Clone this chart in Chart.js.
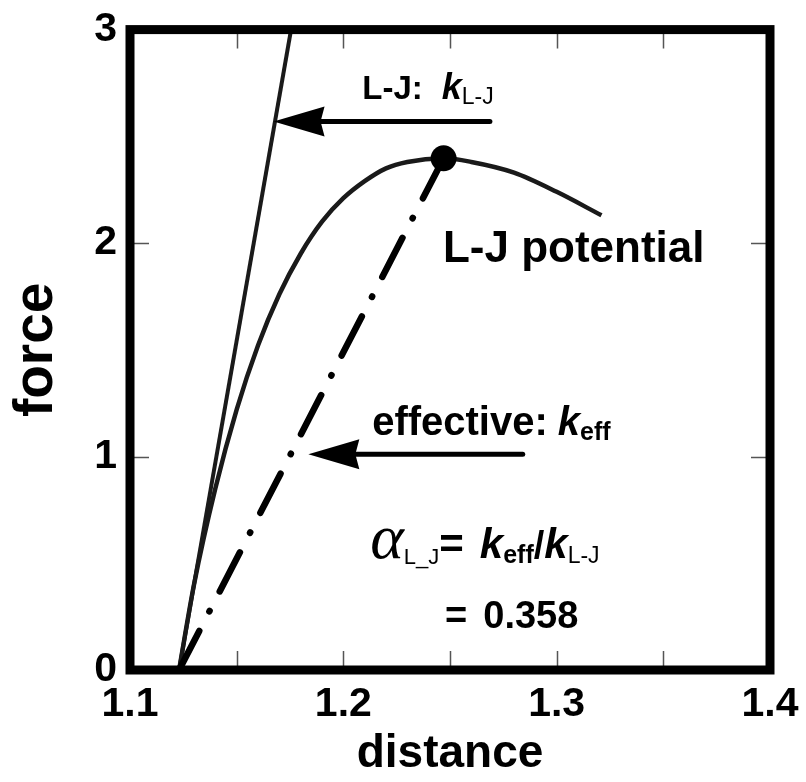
<!DOCTYPE html>
<html>
<head>
<meta charset="utf-8">
<script src="https://cdn.jsdelivr.net/npm/chart.js@4"></script>
<style>
  html, body { margin: 0; padding: 0; background: #fff; }
  #wrap { width: 806px; height: 782px; position: relative; }
</style>
</head>
<body>
<div id="wrap"><canvas id="forceChart"></canvas></div>
<script>
// L-J force curve
const ljDistance = [1.123, 1.13, 1.14, 1.15, 1.16, 1.17, 1.18, 1.19, 1.20, 1.21, 1.22, 1.23, 1.247, 1.26, 1.28, 1.30, 1.321];
const ljForce    = [0, 0.40, 0.85, 1.22, 1.52, 1.76, 1.95, 2.10, 2.21, 2.29, 2.35, 2.38, 2.397, 2.38, 2.33, 2.24, 2.13];

// tangent at the zero crossing (k L-J)
const tangentDistance = [1.123, 1.1755];
const tangentForce = [0, 3];

// line to the force maximum (k eff)
const effDistance = [1.123, 1.247];
const effForce = [0, 2.397];

const peakDistance = [1.247];
const peakForce = [2.397];

const xLabels = [1.1, 1.2, 1.3, 1.4];
const yLabels = [0, 1, 2, 3];

// arrows: tail -> tip, in data units
const arrowTail = [1.2687, 1.2841];
const arrowTip = [1.1673, 1.1836];
const arrowForce = [2.569, 1.011];

const SANS = '"Liberation Sans", Arial, Helvetica, sans-serif';
const SERIF = '"Liberation Serif", "Times New Roman", serif';

const toPoints = (xs, ys) => xs.map((x, i) => ({ x: x, y: ys[i] }));

// rich text labels anchored in data units (left, baseline)
const notes = [
    { x: 1.2089, y: 2.677, runs: [
        { text: 'L-J:', font: 'bold 33px ' + SANS, gap: 19 },
        { text: 'k', font: 'italic bold 36px ' + SANS },
        { text: 'L-J', font: '23px ' + SANS, dy: 5 }
    ]},
    { x: 1.2467, y: 1.909, runs: [
        { text: 'L-J potential', font: 'bold 44px ' + SANS }
    ]},
    { x: 1.2135, y: 1.100, runs: [
        { text: 'effective:', font: 'bold 40px ' + SANS, gap: 10 },
        { text: 'k', font: 'italic bold 40px ' + SANS },
        { text: 'eff', font: 'bold 25px ' + SANS, dy: 5 }
    ]},
    { x: 1.2126, y: 0.524, runs: [
        { text: 'α', font: 'italic 64px ' + SERIF },
        { text: 'L_J', font: '22px ' + SANS, dy: 6 },
        { text: '=', font: 'bold 42px ' + SANS, gap: 16 },
        { text: 'k', font: 'italic bold 42px ' + SANS },
        { text: 'eff', font: 'bold 25px ' + SANS, dy: 5 },
        { text: '/', font: 'bold 38px ' + SANS },
        { text: 'k', font: 'italic bold 42px ' + SANS },
        { text: 'L-J', font: '23px ' + SANS, dy: 5 }
    ]},
    { x: 1.2477, y: 0.196, runs: [
        { text: '=', font: 'bold 38px ' + SANS, gap: 16 },
        { text: '0.358', font: 'bold 38px ' + SANS }
    ]}
];

function drawRuns(ctx, x, y, runs) {
    ctx.textAlign = 'left';
    ctx.textBaseline = 'alphabetic';
    for (const r of runs) {
        ctx.font = r.font;
        ctx.fillText(r.text, x, y + (r.dy || 0));
        x += ctx.measureText(r.text).width + (r.gap || 0);
    }
}

const framePlugin = {
    id: 'frame',
    afterDatasetsDraw(chart) {
        const ctx = chart.ctx;
        const a = chart.chartArea;
        const xs = chart.scales.x;
        const ys = chart.scales.y;
        ctx.save();

        // arrows
        ctx.fillStyle = '#000';
        ctx.strokeStyle = '#000';
        for (let i = 0; i < arrowTip.length; i++) {
            const tail = xs.getPixelForValue(arrowTail[i]);
            const tip = xs.getPixelForValue(arrowTip[i]);
            const y = ys.getPixelForValue(arrowForce[i]);
            ctx.lineWidth = 5;
            ctx.lineCap = 'round';
            ctx.beginPath();
            ctx.moveTo(tail, y);
            ctx.lineTo(tip + 40, y);
            ctx.stroke();
            ctx.beginPath();
            ctx.moveTo(tip, y);
            ctx.lineTo(tip + 51, y - 15);
            ctx.lineTo(tip + 47, y);
            ctx.lineTo(tip + 51, y + 15);
            ctx.closePath();
            ctx.fill();
        }

        // labels
        ctx.fillStyle = '#000';
        for (const n of notes) {
            drawRuns(ctx, xs.getPixelForValue(n.x), ys.getPixelForValue(n.y), n.runs);
        }

        // inward tick marks
        ctx.strokeStyle = '#555';
        ctx.lineWidth = 1.5;
        ctx.lineCap = 'butt';
        ctx.beginPath();
        xs.ticks.forEach(t => {
            if (t.value <= xs.min + 1e-6 || t.value >= xs.max - 1e-6) return;
            const px = Math.round(xs.getPixelForValue(t.value)) + 0.5;
            ctx.moveTo(px, a.bottom - 4);
            ctx.lineTo(px, a.bottom - 19);
            ctx.moveTo(px, a.top + 4);
            ctx.lineTo(px, a.top + 19);
        });
        ys.ticks.forEach(t => {
            if (t.value <= ys.min + 1e-6 || t.value >= ys.max - 1e-6) return;
            const py = Math.round(ys.getPixelForValue(t.value)) + 0.5;
            ctx.moveTo(a.left + 4, py);
            ctx.lineTo(a.left + 19, py);
            ctx.moveTo(a.right - 4, py);
            ctx.lineTo(a.right - 19, py);
        });
        ctx.stroke();

        // heavy frame
        ctx.strokeStyle = '#000';
        ctx.lineWidth = 9;
        ctx.lineJoin = 'miter';
        ctx.strokeRect(a.left, a.top, a.right - a.left, a.bottom - a.top);
        ctx.restore();
    }
};

const ctx = document.getElementById('forceChart').getContext('2d');
new Chart(ctx, {
    type: 'scatter',
    data: {
        datasets: [{
            label: 'maximum',
            data: toPoints(peakDistance, peakForce),
            pointRadius: 13,
            backgroundColor: '#000',
            borderWidth: 0
        }, {
            label: 'effective',
            data: toPoints(effDistance, effForce),
            showLine: true,
            borderColor: '#000',
            borderWidth: 6.5,
            borderDash: [44, 22, 0.5, 22],
            borderCapStyle: 'round',
            pointRadius: 0
        }, {
            label: 'L-J potential',
            data: toPoints(ljDistance, ljForce),
            showLine: true,
            borderColor: '#1a1a1a',
            borderWidth: 4.5,
            cubicInterpolationMode: 'monotone',
            pointRadius: 0
        }, {
            label: 'L-J',
            data: toPoints(tangentDistance, tangentForce),
            showLine: true,
            borderColor: '#1a1a1a',
            borderWidth: 4,
            pointRadius: 0
        }]
    },
    options: {
        responsive: true,
        maintainAspectRatio: false,
        animation: false,
        layout: { padding: { top: 29, right: 36, left: 0, bottom: 0 } },
        plugins: {
            legend: { display: false },
            tooltip: { enabled: false }
        },
        scales: {
            x: {
                type: 'linear',
                min: 1.1,
                max: 1.4,
                grid: { display: false },
                border: { display: false },
                ticks: {
                    stepSize: 0.05,
                    autoSkip: false,
                    maxRotation: 0,
                    padding: 2,
                    color: '#000',
                    font: { family: SANS, size: 41, weight: 'bold' },
                    callback: v => xLabels.some(t => Math.abs(t - v) < 1e-6) ? v.toFixed(1) : ''
                },
                title: {
                    display: true,
                    text: 'distance',
                    color: '#000',
                    font: { family: SANS, size: 46, weight: 'bold' },
                    padding: { top: 0, bottom: 0 }
                },
                afterFit: s => { s.height = 112; }
            },
            y: {
                type: 'linear',
                min: 0,
                max: 3,
                grid: { display: false },
                border: { display: false },
                ticks: {
                    stepSize: 1,
                    padding: 5,
                    color: '#000',
                    font: { family: SANS, size: 41, weight: 'bold' },
                    callback: v => yLabels.includes(v) ? String(v) : ''
                },
                title: {
                    display: true,
                    text: 'force',
                    color: '#000',
                    font: { family: SANS, size: 55, weight: 'bold' },
                    padding: { top: 4, bottom: 0 }
                },
                afterFit: s => { s.width = 130; }
            }
        }
    },
    plugins: [framePlugin]
});
</script>
</body>
</html>
